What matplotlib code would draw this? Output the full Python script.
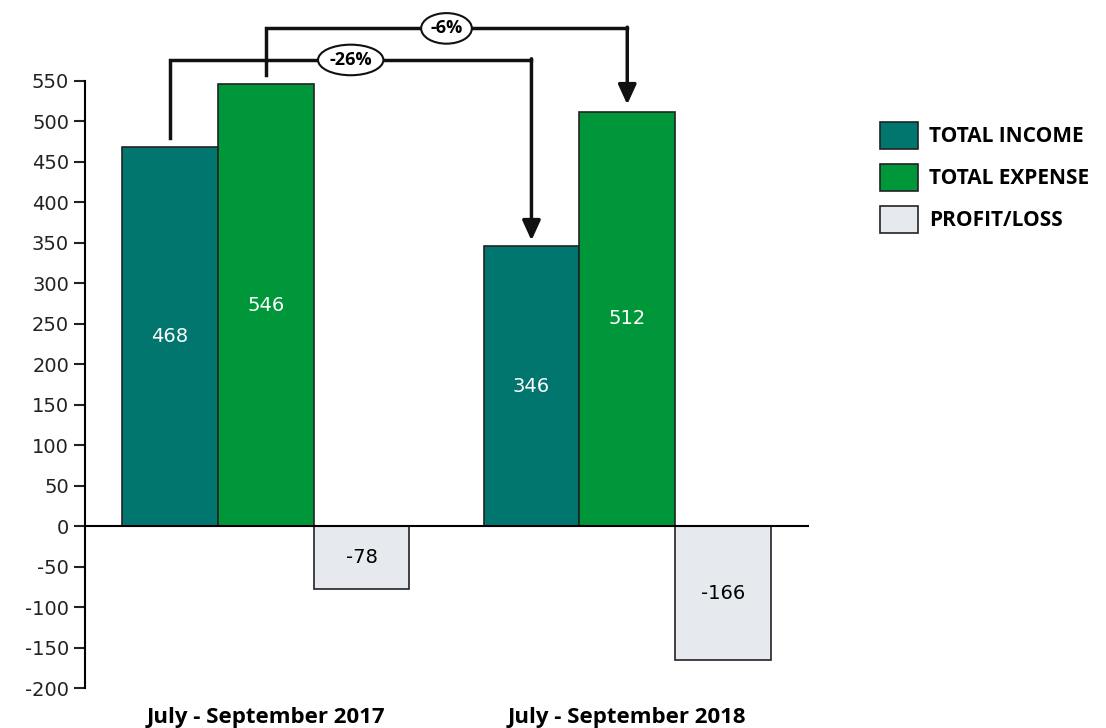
"""
Income vs expense, July - September 2017 / 2018
"""

import numpy as np
import matplotlib.pyplot as plt
from matplotlib.patches import Patch

plt.rcParams["axes.unicode_minus"] = False

periods = ["July - September 2017", "July - September 2018"]
series = ["TOTAL INCOME", "TOTAL EXPENSE", "PROFIT/LOSS"]
income = [468, 346]
expense = [546, 512]
profit = [-78, -166]
changes = ["-26%", "-6%"]

colors = ["#00766e", "#00973a", "#e6e9ee"]
text_colors = ["white", "white", "black"]
bold = ["Open Sans", "DejaVu Sans"]

fig = plt.figure(figsize=(11.06, 7.28), dpi=100)
fig.set_facecolor("white")
ax = fig.add_axes([85 / 1106, 1 - 688 / 728, (808 - 85) / 1106, (688 - 81) / 728])

x = np.arange(len(periods))
w = 0.265
for i, (vals, c, tc) in enumerate(zip([income, expense, profit], colors, text_colors)):
    xs = x + (i - 1) * w
    ax.bar(xs, vals, w, color=c, edgecolor="#222222", linewidth=1.2, label=series[i], zorder=2)
    for xi, v in zip(xs, vals):
        ax.text(xi, v / 2, str(v), ha="center", va="center", color=tc, fontsize=14, zorder=3)

ax.set_xlim(-0.5, 1.5)
ax.set_ylim(-200, 550)
ax.set_yticks(np.arange(-200, 551, 50))
ax.tick_params(axis="y", labelsize=14, length=8, width=1.5, direction="out", colors="#222222")
ax.set_xticks([])
ax.spines["left"].set_linewidth(1.5)
ax.spines["bottom"].set_position(("data", 0))
ax.spines["bottom"].set_linewidth(1.5)
ax.spines["top"].set_visible(False)
ax.spines["right"].set_visible(False)

# period labels sit below the plot, not at the zero line
for xi, p in zip(x, periods):
    ax.text(xi, -237, p, ha="center", va="center", fontsize=16, fontweight="bold",
            family=bold, clip_on=False)


def bracket(x0, x1, y0, ytop, y1, label):
    ax.plot([x0, x0, x1], [y0, ytop, ytop], color="#111111", lw=2.5, clip_on=False,
            solid_joinstyle="miter", zorder=4)
    ax.annotate("", xy=(x1, y1), xytext=(x1, ytop + 1.5), annotation_clip=False,
                arrowprops=dict(arrowstyle="-|>,head_length=1.2,head_width=0.55",
                                color="#111111", lw=2.5, shrinkA=0, shrinkB=0), zorder=4)
    ax.text((x0 + x1) / 2, ytop, label, ha="center", va="center", fontsize=13,
            fontweight="bold", family=bold, zorder=5, clip_on=False,
            bbox=dict(boxstyle="ellipse,pad=0.1", fc="white", ec="#111111", lw=1.5))


bracket(x[0] - w, x[1] - w, 479, 576, 353, changes[0])
bracket(x[0], x[1], 557, 615, 521, changes[1])

handles = [Patch(facecolor=c, edgecolor="#222222", linewidth=1.2) for c in colors]
fig.legend(handles, series, loc="upper left", bbox_to_anchor=(861 / 1106, 1 - 103 / 728),
           frameon=False, prop=dict(family=bold, weight="bold", size=15),
           handlelength=1.83, handleheight=1.65, labelspacing=0.7, handletextpad=0.55)

fig.savefig("out.png", dpi=100)
